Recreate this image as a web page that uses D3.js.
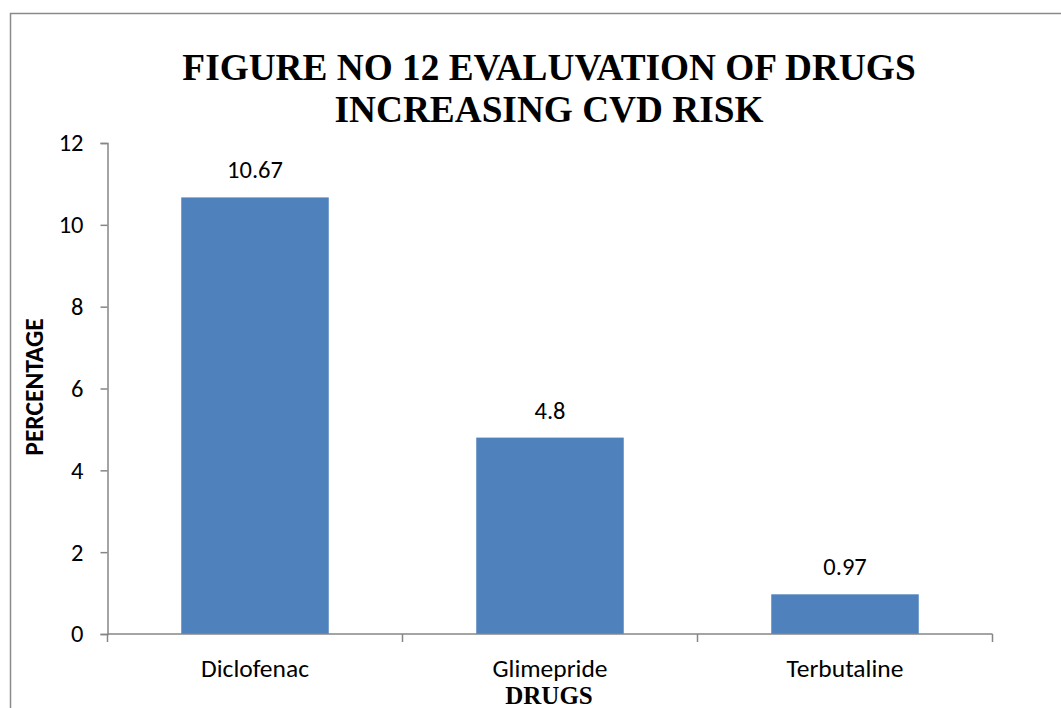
<!DOCTYPE html>
<html>
<head>
<meta charset="utf-8">
<script src="https://cdn.jsdelivr.net/npm/d3@7"></script>
<style>
  html, body { margin: 0; padding: 0; background: #fff; }
  svg { display: block; }
</style>
</head>
<body>
<svg id="chart" width="1061" height="708"></svg>
<script>
// Drugs and the share of patients (%) in whom each raised CVD risk
const drugs = ["Diclofenac", "Glimepride", "Terbutaline"];
const percentages = [10.67, 4.8, 0.97];
const valueLabels = ["10.67", "4.8", "0.97"];
const yTicks = [0, 2, 4, 6, 8, 10, 12];
const titleLines = ["FIGURE NO 12 EVALUVATION OF DRUGS", "INCREASING CVD RISK"];
const xTitle = "DRUGS";
const yTitle = "PERCENTAGE";

const svg = d3.select("#chart");
const sansFont = "Carlito, Lato, 'Liberation Sans', sans-serif";
const serifFont = "'Liberation Serif', 'Times New Roman', serif";
const axisColor = "#868686";
const barColor = "#4F81BD";

// outer chart frame
svg.append("path")
  .attr("d", "M10.5,720 V13.5 H1070")
  .attr("fill", "none")
  .attr("stroke", "#8a8a8a")
  .attr("stroke-width", 1.5);

const plot = { left: 107.5, right: 992.5, top: 143, bottom: 634 };

const x = d3.scaleBand()
  .domain(drugs)
  .range([plot.left, plot.right])
  .paddingInner(0.5)
  .paddingOuter(0.25);

const y = d3.scaleLinear()
  .domain([0, 12])
  .range([plot.bottom, plot.top]);

// title
svg.append("text")
  .attr("x", 549)
  .attr("font-family", serifFont)
  .attr("font-weight", "bold")
  .attr("font-size", 37.3)
  .attr("text-anchor", "middle")
  .selectAll("tspan")
  .data(titleLines)
  .join("tspan")
  .attr("x", 549)
  .attr("y", (d, i) => 80 + i * 42)
  .text(d => d);

// bars
svg.append("g")
  .selectAll("rect")
  .data(percentages)
  .join("rect")
  .attr("x", (d, i) => x(drugs[i]))
  .attr("width", x.bandwidth())
  .attr("y", d => y(d))
  .attr("height", d => y(0) - y(d))
  .attr("fill", barColor);

// value labels above bars
svg.append("g")
  .selectAll("text")
  .data(percentages)
  .join("text")
  .attr("x", (d, i) => x(drugs[i]) + x.bandwidth() / 2)
  .attr("y", d => y(d) - 19)
  .attr("text-anchor", "middle")
  .attr("font-family", sansFont)
  .attr("font-size", 24.5)
  .attr("fill", "#000")
  .text((d, i) => valueLabels[i]);

// y axis
const yAxis = svg.append("g")
  .attr("transform", `translate(${plot.left},0)`)
  .call(d3.axisLeft(y).tickValues(yTicks).tickSize(7).tickPadding(17).tickFormat(d3.format("d")));
yAxis.select(".domain").attr("stroke", axisColor).attr("stroke-width", 1.5);
yAxis.selectAll(".tick line").attr("stroke", axisColor).attr("stroke-width", 1.5);
yAxis.selectAll(".tick text")
  .attr("font-family", sansFont)
  .attr("font-size", 24.5)
  .attr("fill", "#000");

// x axis with ticks at category boundaries
const xAxisG = svg.append("g")
  .attr("transform", `translate(0,${plot.bottom})`);
xAxisG.append("line")
  .attr("x1", plot.left).attr("x2", plot.right)
  .attr("stroke", axisColor).attr("stroke-width", 1.5);
const boundaries = [plot.left].concat(drugs.map(d => x(d) + x.bandwidth() + x.step() * 0.25));
xAxisG.selectAll(".bound")
  .data(boundaries)
  .join("line")
  .attr("class", "bound")
  .attr("x1", d => d).attr("x2", d => d)
  .attr("y1", 0).attr("y2", 8)
  .attr("stroke", axisColor).attr("stroke-width", 1.5);
xAxisG.selectAll(".cat")
  .data(drugs)
  .join("text")
  .attr("class", "cat")
  .attr("x", d => x(d) + x.bandwidth() / 2)
  .attr("y", 43)
  .attr("text-anchor", "middle")
  .attr("font-family", sansFont)
  .attr("font-size", 25.5)
  .attr("fill", "#000")
  .text(d => d);

// axis titles
svg.append("text")
  .attr("x", 549)
  .attr("y", 704)
  .attr("text-anchor", "middle")
  .attr("font-family", serifFont)
  .attr("font-weight", "bold")
  .attr("font-size", 25)
  .text(xTitle);

svg.append("text")
  .attr("transform", "translate(43,387) rotate(-90)")
  .attr("text-anchor", "middle")
  .attr("font-family", sansFont)
  .attr("font-weight", "bold")
  .attr("font-size", 25.5)
  .text(yTitle);
</script>
</body>
</html>
